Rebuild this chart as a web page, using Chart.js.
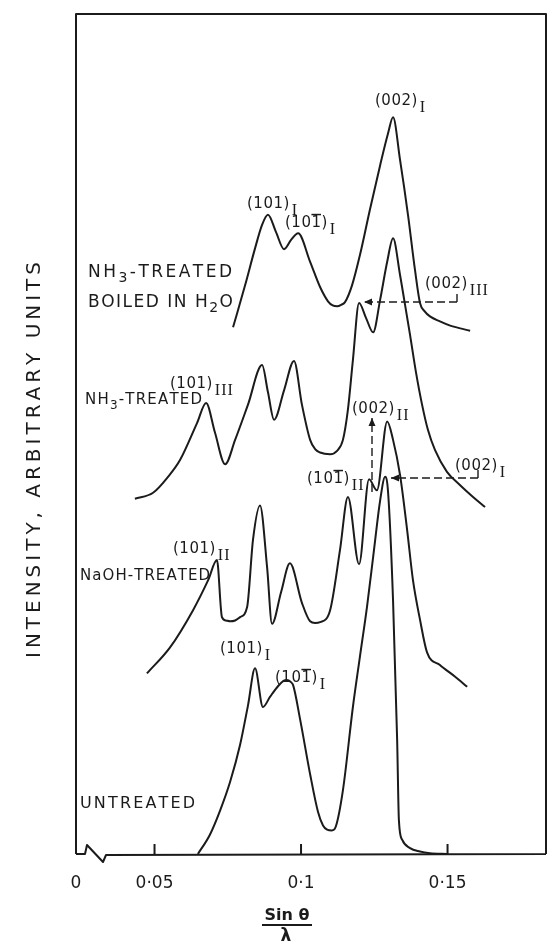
<!DOCTYPE html>
<html>
<head>
<meta charset="utf-8">
<script src="https://cdn.jsdelivr.net/npm/chart.js@4.4.1/dist/chart.umd.min.js"></script>
<style>
  html, body { margin: 0; padding: 0; background: #fff; }
  canvas { display: block; }
</style>
</head>
<body>
<canvas id="xrd" width="560" height="945"></canvas>
<script>
// sin(theta)/lambda and intensity (arbitrary units)
const boiledX = [0.0768, 0.0809, 0.0843, 0.0867, 0.0887, 0.0915, 0.0942, 0.0966, 0.0990, 0.1031, 0.1065, 0.1092, 0.1108, 0.1123, 0.1138, 0.1150, 0.1174, 0.1201, 0.1235, 0.1270, 0.1297, 0.1314, 0.1338, 0.1365, 0.1389, 0.1406, 0.1422, 0.1440, 0.1474, 0.1509, 0.1577];
const boiledY = [62.7, 67.7, 72.1, 74.9, 76.1, 74.0, 72.0, 73.1, 73.9, 70.5, 67.5, 65.8, 65.3, 65.2, 65.4, 65.7, 67.7, 71.3, 76.7, 82.0, 85.8, 87.7, 82.6, 76.1, 69.5, 65.6, 64.6, 64.0, 63.4, 62.9, 62.3];

const nh3X = [0.0433, 0.0495, 0.0546, 0.0587, 0.0645, 0.0676, 0.0706, 0.0741, 0.0775, 0.0819, 0.0867, 0.0887, 0.0908, 0.0942, 0.0976, 0.1003, 0.1031, 0.1048, 0.1065, 0.1099, 0.1123, 0.1143, 0.1160, 0.1177, 0.1198, 0.1222, 0.1246, 0.1270, 0.1294, 0.1314, 0.1338, 0.1352, 0.1372, 0.1392, 0.1413, 0.1433, 0.1457, 0.1498, 0.1543, 0.1587, 0.1628];
const nh3Y = [42.3, 43.0, 44.9, 46.9, 51.3, 53.7, 50.2, 46.4, 49.3, 53.5, 58.2, 55.0, 51.7, 55.2, 58.7, 53.5, 49.3, 48.2, 47.8, 47.6, 48.0, 49.3, 52.9, 58.8, 65.6, 63.8, 62.1, 66.0, 70.5, 73.3, 68.9, 66.0, 61.8, 57.4, 53.5, 50.5, 48.1, 45.5, 43.9, 42.5, 41.3];

const naohX = [0.0474, 0.0553, 0.0631, 0.0683, 0.0713, 0.0730, 0.0744, 0.0758, 0.0775, 0.0792, 0.0816, 0.0836, 0.0860, 0.0884, 0.0901, 0.0932, 0.0962, 0.1003, 0.1031, 0.1048, 0.1065, 0.1099, 0.1133, 0.1160, 0.1198, 0.1232, 0.1259, 0.1294, 0.1314, 0.1338, 0.1362, 0.1382, 0.1406, 0.1430, 0.1474, 0.1526, 0.1567];
const naohY = [21.5, 24.6, 29.0, 32.6, 35.0, 28.2, 27.8, 27.7, 27.8, 28.2, 29.4, 37.4, 41.5, 34.2, 27.4, 31.2, 34.6, 29.9, 27.7, 27.5, 27.6, 29.0, 36.2, 42.5, 34.5, 44.6, 43.3, 51.5, 49.3, 45.1, 38.6, 32.6, 27.9, 24.0, 22.5, 21.1, 19.9];

const untreatedX = [0.0648, 0.0689, 0.0724, 0.0758, 0.0792, 0.0819, 0.0843, 0.0870, 0.0894, 0.0922, 0.0940, 0.0952, 0.0964, 0.0973, 0.0997, 0.1031, 0.1058, 0.1075, 0.1089, 0.1105, 0.1119, 0.1143, 0.1177, 0.1201, 0.1225, 0.1249, 0.1270, 0.1287, 0.1297, 0.1314, 0.1328, 0.1334, 0.1345, 0.1372, 0.1406, 0.1440, 0.1498];
const untreatedY = [0, 2.3, 5.2, 8.6, 13.0, 17.7, 22.1, 17.5, 18.7, 20.0, 20.6, 20.7, 20.5, 20.1, 16.0, 9.5, 5.0, 3.4, 2.9, 2.8, 3.3, 7.6, 17.5, 23.5, 29.4, 36.2, 42.1, 44.9, 43.1, 30.2, 13.6, 4.0, 1.7, 0.7, 0.3, 0.1, 0];

const tickValues = [0.05, 0.1, 0.15];
const tickLabels = ['0·05', '0·1', '0·15'];
const breakLabel = '0';
const xMin = 0.0232;
const xMax = 0.1836;

const INK = '#1b1b1b';

function pts(xs, ys) {
  return xs.map((x, i) => ({ x: x, y: ys[i] }));
}

function curve(xs, ys) {
  return {
    data: pts(xs, ys),
    borderColor: INK,
    borderWidth: 2,
    borderJoinStyle: 'round',
    pointRadius: 0,
    fill: false,
    cubicInterpolationMode: 'monotone'
  };
}

// text pieces: '' plain, 'sub' digit subscript, 'rom' roman numeral subscript, 'bar' overbarred digit
function fontFor(kind, size) {
  if (kind === 'rom') return '16px "Liberation Serif"';
  if (kind === 'sub') return Math.round(size * 0.8) + 'px "DejaVu Sans"';
  return size + 'px "DejaVu Sans"';
}

function drawText(ctx, parts, x, y, size, width) {
  const chars = [];
  parts.forEach(([t, kind]) => {
    for (const c of t) chars.push([c, kind || '']);
  });
  const main = chars.filter(c => c[1] !== 'rom');
  const widths = chars.map(([c, k]) => {
    ctx.font = fontFor(k, size);
    return ctx.measureText(c).width;
  });
  let natural = 0;
  chars.forEach((c, i) => { if (c[1] !== 'rom') natural += widths[i]; });
  const gap = width ? (width - natural) / (main.length - 1) : 0.5;
  let cx = x;
  let inRom = false;
  chars.forEach(([c, k], i) => {
    ctx.font = fontFor(k, size);
    let dy = 0;
    if (k === 'sub') dy = 5;
    if (k === 'rom') {
      if (!inRom) { cx += 2; inRom = true; }
      dy = 7;
    }
    ctx.fillText(c, cx, y + dy);
    if (k === 'bar') ctx.fillRect(cx, y - size * 0.88, widths[i], 1.5);
    cx += widths[i] + (k === 'rom' ? 1 : gap);
  });
}

function dashedArrow(ctx, x1, y1, x2, y2) {
  ctx.save();
  ctx.setLineDash([8, 4]);
  ctx.lineWidth = 1.4;
  ctx.beginPath();
  ctx.moveTo(x1, y1);
  ctx.lineTo(x2, y2);
  ctx.stroke();
  ctx.setLineDash([]);
  const ang = Math.atan2(y2 - y1, x2 - x1);
  ctx.translate(x2, y2);
  ctx.rotate(ang);
  ctx.beginPath();
  ctx.moveTo(0, 0);
  ctx.lineTo(-8, -3.5);
  ctx.lineTo(-8, 3.5);
  ctx.closePath();
  ctx.fill();
  ctx.restore();
}

const labels = [
  { x: 375, y: 105, parts: [['(002)'], ['I', 'rom']] },
  { x: 247, y: 208, parts: [['(101)'], ['I', 'rom']] },
  { x: 285, y: 227, parts: [['(10'], ['1', 'bar'], [')'], ['I', 'rom']] },
  { x: 88, y: 277, size: 17, w: 144, parts: [['NH'], ['3', 'sub'], ['-TREATED']] },
  { x: 88, y: 307, size: 17, w: 145, parts: [['BOILED IN H'], ['2', 'sub'], ['O']] },
  { x: 425, y: 288, parts: [['(002)'], ['III', 'rom']] },
  { x: 85, y: 404, size: 15, w: 117, parts: [['NH'], ['3', 'sub'], ['-TREATED']] },
  { x: 170, y: 388, parts: [['(101)'], ['III', 'rom']] },
  { x: 352, y: 413, parts: [['(002)'], ['II', 'rom']] },
  { x: 307, y: 483, parts: [['(10'], ['1', 'bar'], [')'], ['II', 'rom']] },
  { x: 455, y: 470, parts: [['(002)'], ['I', 'rom']] },
  { x: 173, y: 553, parts: [['(101)'], ['II', 'rom']] },
  { x: 80, y: 580, size: 15, w: 130, parts: [['NaOH-TREATED']] },
  { x: 220, y: 653, parts: [['(101)'], ['I', 'rom']] },
  { x: 275, y: 682, parts: [['(10'], ['1', 'bar'], [')'], ['I', 'rom']] },
  { x: 80, y: 808, size: 16, w: 115, parts: [['UNTREATED']] }
];

const decorations = {
  id: 'decorations',
  afterDatasetsDraw(chart) {
    const { ctx, chartArea: a, scales: { x } } = chart;
    ctx.save();
    ctx.strokeStyle = INK;
    ctx.fillStyle = INK;
    ctx.lineWidth = 2;
    ctx.lineJoin = 'round';

    // frame, with the broken axis near the origin
    ctx.beginPath();
    ctx.moveTo(a.left, a.bottom);
    ctx.lineTo(a.left, a.top);
    ctx.lineTo(a.right, a.top);
    ctx.lineTo(a.right, a.bottom);
    ctx.moveTo(a.left, a.bottom);
    ctx.lineTo(a.left + 9, a.bottom);
    ctx.lineTo(a.left + 11, a.bottom - 9);
    ctx.lineTo(a.left + 27, a.bottom + 8);
    ctx.lineTo(a.left + 30, a.bottom + 1);
    ctx.lineTo(a.right, a.bottom);
    tickValues.forEach(v => {
      const px = x.getPixelForValue(v);
      ctx.moveTo(px, a.bottom);
      ctx.lineTo(px, a.bottom - 10);
    });
    ctx.stroke();

    // peak labels and sample names
    ctx.textAlign = 'left';
    ctx.textBaseline = 'alphabetic';
    labels.forEach(l => drawText(ctx, l.parts, l.x, l.y, l.size || 15, l.w));

    // shift arrows
    dashedArrow(ctx, 457, 302, 364, 302);
    dashedArrow(ctx, 478, 478, 391, 478);
    dashedArrow(ctx, 372, 492, 372, 418);
    ctx.lineWidth = 1.4;
    ctx.beginPath();
    ctx.moveTo(457, 294); ctx.lineTo(457, 302);
    ctx.moveTo(478, 470); ctx.lineTo(478, 478);
    ctx.stroke();

    // axis titles
    ctx.save();
    ctx.translate(33, 460);
    ctx.rotate(-Math.PI / 2);
    drawText(ctx, [['INTENSITY, ARBITRARY UNITS']], -198, 7, 20, 396);
    ctx.restore();

    ctx.textAlign = 'center';
    ctx.font = 'bold 16px "DejaVu Sans"';
    ctx.fillText('Sin θ', 287, 920);
    ctx.fillRect(262, 924, 50, 2);
    ctx.font = 'bold 17px "DejaVu Sans"';
    ctx.fillText('λ', 286, 941);
    ctx.restore();
  }
};

new Chart(document.getElementById('xrd'), {
  type: 'line',
  data: {
    datasets: [
      curve(boiledX, boiledY),
      curve(nh3X, nh3Y),
      curve(naohX, naohY),
      curve(untreatedX, untreatedY)
    ]
  },
  options: {
    responsive: false,
    animation: false,
    devicePixelRatio: 1,
    events: [],
    layout: { padding: { left: 76, right: 14, top: 14, bottom: 0 } },
    plugins: { legend: { display: false }, tooltip: { enabled: false } },
    scales: {
      x: {
        type: 'linear',
        min: xMin,
        max: xMax,
        grid: { display: false },
        border: { display: false },
        afterBuildTicks: s => { s.ticks = [xMin].concat(tickValues).map(v => ({ value: v })); },
        afterFit: s => { s.height = 91; },
        ticks: {
          autoSkip: false,
          maxRotation: 0,
          padding: 11,
          color: INK,
          font: { family: 'DejaVu Sans', size: 17 },
          callback: v => (v === xMin ? breakLabel : tickLabels[tickValues.indexOf(v)])
        }
      },
      y: { display: false, min: 0, max: 100 }
    }
  },
  plugins: [decorations]
});
</script>
</body>
</html>
